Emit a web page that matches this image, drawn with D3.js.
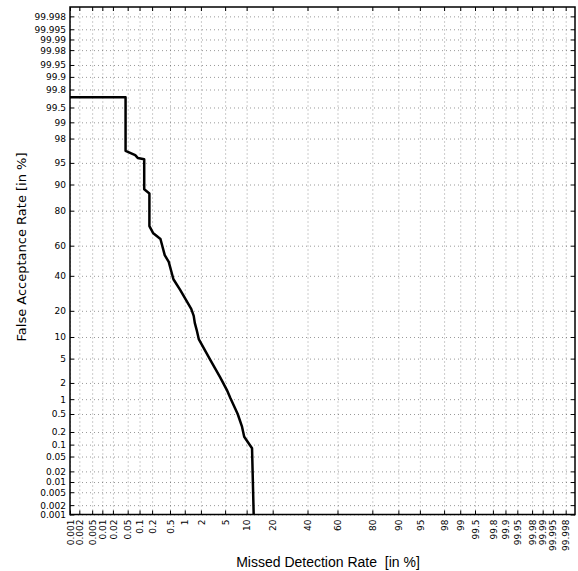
<!DOCTYPE html>
<html>
<head>
<meta charset="utf-8">
<script src="https://cdn.jsdelivr.net/npm/d3@7/dist/d3.min.js"></script>
<style>
  body { margin: 0; background: #fff; }
  svg { display: block; }
  .tick-label { font-family: "DejaVu Sans", sans-serif; font-size: 9px; fill: #000; }
</style>
</head>
<body>
<div id="chart"></div>
<script>
// Probability ticks (percent) shared by both axes
const tickValues = [0.001, 0.002, 0.005, 0.01, 0.02, 0.05, 0.1, 0.2, 0.5, 1, 2, 5, 10, 20, 40, 60, 80, 90, 95, 98, 99, 99.5, 99.8, 99.9, 99.95, 99.98, 99.99, 99.995, 99.998];
const tickLabels = ['0.001', '0.002', '0.005', '0.01', '0.02', '0.05', '0.1', '0.2', '0.5', '1', '2', '5', '10', '20', '40', '60', '80', '90', '95', '98', '99', '99.5', '99.8', '99.9', '99.95', '99.98', '99.99', '99.995', '99.998'];
const axisDomain = [0.001, 99.999];

// DET curve (percent)
const missedRate  = [0.001, 0.044, 0.044, 0.078, 0.090, 0.13, 0.13, 0.173, 0.173, 0.21, 0.31, 0.385, 0.47, 0.59, 0.81, 1.33, 1.48, 1.55, 1.68, 1.83, 2.9, 4.2, 5.3, 6.0, 7.6, 8.7, 9.3, 11.7, 12.25];
const falseAccept = [99.7, 99.7, 96.77, 96.2, 95.8, 95.6, 88.5, 87.1, 72.0, 68.0, 64.3, 53.8, 49.2, 37.8, 31.2, 20.9, 17.7, 14.8, 12.2, 9.4, 4.8, 2.5, 1.5, 1.04, 0.50, 0.264, 0.155, 0.081, 0.001];

// Inverse of the normal CDF (Acklam), used for the probit axes
function probit(p) {
  const a = [-3.969683028665376e+01, 2.209460984245205e+02, -2.759285104469687e+02, 1.383577518672690e+02, -3.066479806614716e+01, 2.506628277459239e+00];
  const b = [-5.447609879822406e+01, 1.615858368580409e+02, -1.556989798598866e+02, 6.680131188771972e+01, -1.328068155288572e+01];
  const c = [-7.784894002430293e-03, -3.223964580411365e-01, -2.400758277161838e+00, -2.549732539343734e+00, 4.374664141464968e+00, 2.938163982698783e+00];
  const d = [7.784695709041462e-03, 3.224671290700398e-01, 2.445134137142996e+00, 3.754408661907416e+00];
  const pl = 0.02425, ph = 1 - pl;
  let q, r;
  if (p < pl) {
    q = Math.sqrt(-2 * Math.log(p));
    return (((((c[0]*q+c[1])*q+c[2])*q+c[3])*q+c[4])*q+c[5]) / ((((d[0]*q+d[1])*q+d[2])*q+d[3])*q+1);
  }
  if (p <= ph) {
    q = p - 0.5; r = q * q;
    return (((((a[0]*r+a[1])*r+a[2])*r+a[3])*r+a[4])*r+a[5])*q / (((((b[0]*r+b[1])*r+b[2])*r+b[3])*r+b[4])*r+1);
  }
  q = Math.sqrt(-2 * Math.log(1 - p));
  return -(((((c[0]*q+c[1])*q+c[2])*q+c[3])*q+c[4])*q+c[5]) / ((((d[0]*q+d[1])*q+d[2])*q+d[3])*q+1);
}
const z = v => probit(v / 100);

// Some constants
const W = 578, H = 571;
const margins = { top: 7, bottom: 56.5, left: 70, right: 3 };
const width = W - margins.left - margins.right;
const height = H - margins.top - margins.bottom;

const svg = d3.select('#chart')
  .append('svg')
  .attr('width', W)
  .attr('height', H);

const canvas = svg.append('g')
  .attr('transform', `translate(${margins.left},${margins.top})`);

// Scales work in probit space
const xScale = d3.scaleLinear().domain(axisDomain.map(z)).range([0, width]);
const yScale = d3.scaleLinear().domain(axisDomain.map(z)).range([height, 0]);
const ticksZ = tickValues.map(z);
const fmt = (d, i) => tickLabels[i];

// Dotted grid
canvas.append('g')
  .attr('transform', `translate(0,${height})`)
  .call(d3.axisBottom(xScale).tickValues(ticksZ).tickSize(-height).tickFormat(''))
  .call(g => g.select('.domain').remove())
  .call(g => g.selectAll('line').attr('stroke', '#333').attr('stroke-width', 0.5).attr('stroke-dasharray', '1,3'));

canvas.append('g')
  .call(d3.axisLeft(yScale).tickValues(ticksZ).tickSize(-width).tickFormat(''))
  .call(g => g.select('.domain').remove())
  .call(g => g.selectAll('line').attr('stroke', '#333').attr('stroke-width', 0.5).attr('stroke-dasharray', '1,3'));

// Axes with inward ticks
const styleAxis = g => {
  g.select('.domain').remove();
  g.selectAll('line').attr('stroke', '#000').attr('stroke-width', 1);
  g.selectAll('text').attr('class', 'tick-label').attr('font-family', null).attr('font-size', null).attr('fill', null);
};

canvas.append('g')
  .attr('transform', `translate(0,${height})`)
  .call(d3.axisBottom(xScale).tickValues(ticksZ).tickFormat(fmt).tickSizeInner(-4).tickSizeOuter(0))
  .call(styleAxis)
  .call(g => g.selectAll('text')
    .attr('transform', 'rotate(-90)')
    .attr('x', -5)
    .attr('y', 0)
    .attr('dy', '0.35em')
    .style('text-anchor', 'end'));

canvas.append('g')
  .call(d3.axisLeft(yScale).tickValues(ticksZ).tickFormat(fmt).tickSizeInner(-4).tickSizeOuter(0).tickPadding(4))
  .call(styleAxis);

canvas.append('g')
  .call(d3.axisTop(xScale).tickValues(ticksZ).tickFormat('').tickSizeInner(-4).tickSizeOuter(0))
  .call(styleAxis);

canvas.append('g')
  .attr('transform', `translate(${width},0)`)
  .call(d3.axisRight(yScale).tickValues(ticksZ).tickFormat('').tickSizeInner(-4).tickSizeOuter(0))
  .call(styleAxis);

// Frame
canvas.append('rect')
  .attr('width', width)
  .attr('height', height)
  .attr('fill', 'none')
  .attr('stroke', '#000')
  .attr('stroke-width', 1.5);

// The DET curve
const points = d3.zip(missedRate, falseAccept);
canvas.append('path')
  .datum(points)
  .attr('fill', 'none')
  .attr('stroke', '#000')
  .attr('stroke-width', 2.5)
  .attr('stroke-linejoin', 'round')
  .attr('d', d3.line().x(d => xScale(z(d[0]))).y(d => yScale(z(d[1]))));

// Axis titles
svg.append('text')
  .attr('x', 328)
  .attr('y', 567)
  .attr('text-anchor', 'middle')
  .attr('xml:space', 'preserve')
  .style('font-family', '"Liberation Sans", Arial, sans-serif')
  .style('font-size', '14px')
  .text('Missed Detection Rate  [in %]');

svg.append('text')
  .attr('transform', 'translate(26,247) rotate(-90)')
  .attr('text-anchor', 'middle')
  .style('font-family', '"DejaVu Sans", sans-serif')
  .style('font-size', '13px')
  .text('False Acceptance Rate [in %]');
</script>
</body>
</html>
